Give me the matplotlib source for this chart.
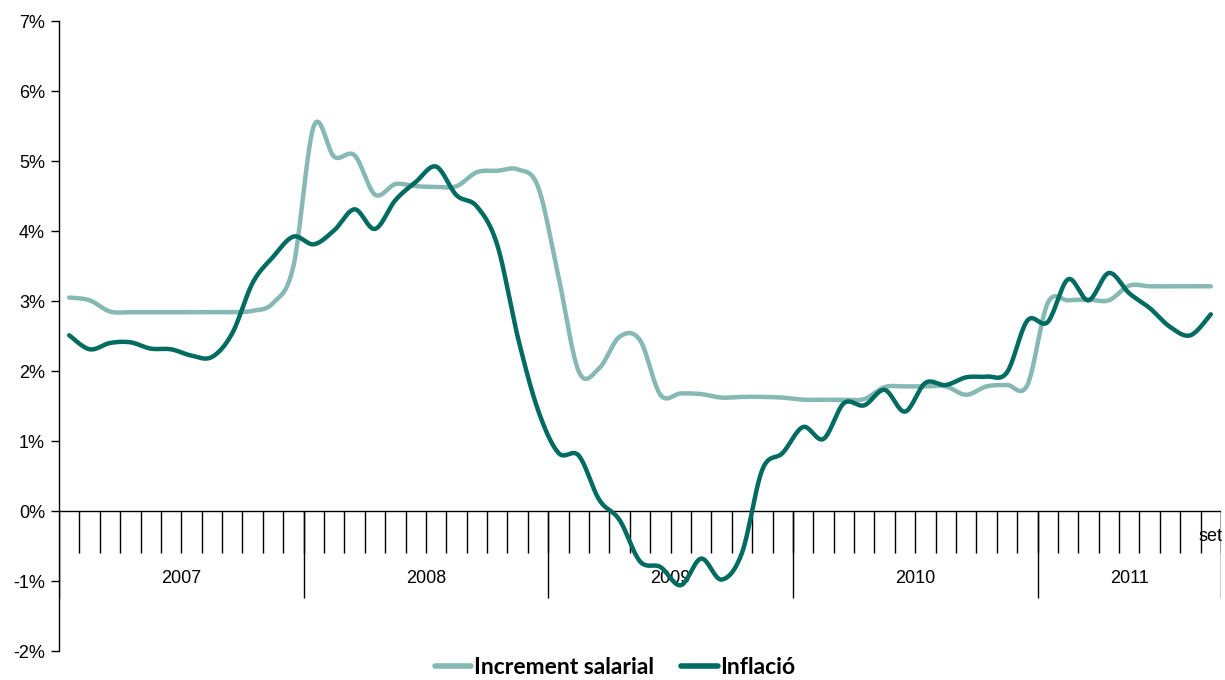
import numpy as np
import matplotlib
matplotlib.use('Agg')
import matplotlib.pyplot as plt

# monthly data, Jan 2007 .. Sep 2011
years = ['2007', '2008', '2009', '2010', '2011']
months_per_year = [12, 12, 12, 12, 9]
last_month_label = 'set'

salari = [3.05, 3.01, 2.85, 2.84, 2.84, 2.84, 2.84, 2.84, 2.84, 2.86, 2.97, 3.5,
          5.5, 5.06, 5.08, 4.52, 4.67, 4.64, 4.63, 4.64, 4.84, 4.86, 4.88, 4.63,
          3.35, 1.99, 2.04, 2.49, 2.44, 1.66, 1.68, 1.67, 1.62, 1.63, 1.63, 1.62,
          1.59, 1.59, 1.59, 1.6, 1.77, 1.78, 1.78, 1.78, 1.66, 1.78, 1.8, 1.8,
          2.97, 3.01, 3.02, 3.01, 3.22, 3.21, 3.21, 3.21, 3.21]
inflacio = [2.51, 2.31, 2.4, 2.41, 2.32, 2.31, 2.22, 2.2, 2.54, 3.26, 3.63, 3.92,
            3.81, 4.01, 4.31, 4.03, 4.44, 4.7, 4.92, 4.51, 4.35, 3.8, 2.49, 1.44,
            0.83, 0.79, 0.16, -0.13, -0.72, -0.8, -1.06, -0.68, -0.98, -0.6, 0.59, 0.83,
            1.2, 1.03, 1.54, 1.51, 1.73, 1.42, 1.83, 1.8, 1.91, 1.92, 1.98, 2.72,
            2.7, 3.31, 3.01, 3.4, 3.11, 2.9, 2.63, 2.51, 2.81]

c_sal = '#86b9b3'
c_inf = '#006b60'

plt.rcParams['font.family'] = ['Liberation Sans', 'DejaVu Sans']


def smooth(x, y, n=20):
    # catmull-rom style curve through the points (like Excel smoothed lines)
    x = np.asarray(x, float)
    y = np.asarray(y, float)
    px = np.concatenate([[x[0]], x, [x[-1]]])
    py = np.concatenate([[y[0]], y, [y[-1]]])
    xs, ys = [], []
    t = np.linspace(0, 1, n, endpoint=False)
    for i in range(1, len(px) - 2):
        b0x, b0y = px[i], py[i]
        b3x, b3y = px[i + 1], py[i + 1]
        b1x = b0x + (px[i + 1] - px[i - 1]) / 6
        b1y = b0y + (py[i + 1] - py[i - 1]) / 6
        b2x = b3x - (px[i + 2] - px[i]) / 6
        b2y = b3y - (py[i + 2] - py[i]) / 6
        xs.append((1-t)**3*b0x + 3*(1-t)**2*t*b1x + 3*(1-t)*t**2*b2x + t**3*b3x)
        ys.append((1-t)**3*b0y + 3*(1-t)**2*t*b1y + 3*(1-t)*t**2*b2y + t**3*b3y)
    xs.append([x[-1]])
    ys.append([y[-1]])
    return np.concatenate(xs), np.concatenate(ys)


n = len(salari)
xc = np.arange(n) + 0.5

fig = plt.figure(figsize=(12.25, 6.8), dpi=100)
ax = fig.add_axes([59/1225, 29/680, 1162/1225, 630/680])

sx, sy = smooth(xc, salari)
ix, iy = smooth(xc, inflacio)
ax.plot(sx, sy, color=c_sal, lw=3.2, solid_capstyle='round', label='Increment salarial', zorder=3)
ax.plot(ix, iy, color=c_inf, lw=3.2, solid_capstyle='round', label='Inflació', zorder=4)

fs = 13
ax.set_xlim(0, n)
ax.set_ylim(-2, 7)
ax.set_yticks(range(-2, 8))
ax.set_yticklabels(['%d%%' % v for v in range(-2, 8)], fontsize=fs)
ax.tick_params(axis='y', direction='out', length=6, width=1, pad=4)
ax.set_xticks([])
for s in ['top', 'right', 'bottom']:
    ax.spines[s].set_visible(False)
ax.spines['left'].set_linewidth(1)

# category axis drawn at zero
ax.axhline(0, color='black', lw=1, zorder=2)
ax.vlines(np.arange(1, n + 1), -0.6, 0, color='black', lw=1, zorder=2)
bounds = np.concatenate([[0], np.cumsum(months_per_year)])
ax.vlines(bounds, -1.24, 0, color='black', lw=1, zorder=2)
for yr, a, b in zip(years, bounds[:-1], bounds[1:]):
    ax.text((a + b) / 2, -0.96, yr, ha='center', va='center', fontsize=fs)
ax.text(n - 0.5, -0.36, last_month_label, ha='center', va='center', fontsize=fs)

leg = fig.legend(loc='center', bbox_to_anchor=(0.502, 0.019), ncol=2, frameon=False,
                 handlelength=1.6, handletextpad=0.1, columnspacing=1.2,
                 prop={'family': 'Lato', 'weight': 'bold', 'size': 16.5})
for h in leg.get_lines():
    h.set_linewidth(4)

fig.savefig('out.png', dpi=100)
